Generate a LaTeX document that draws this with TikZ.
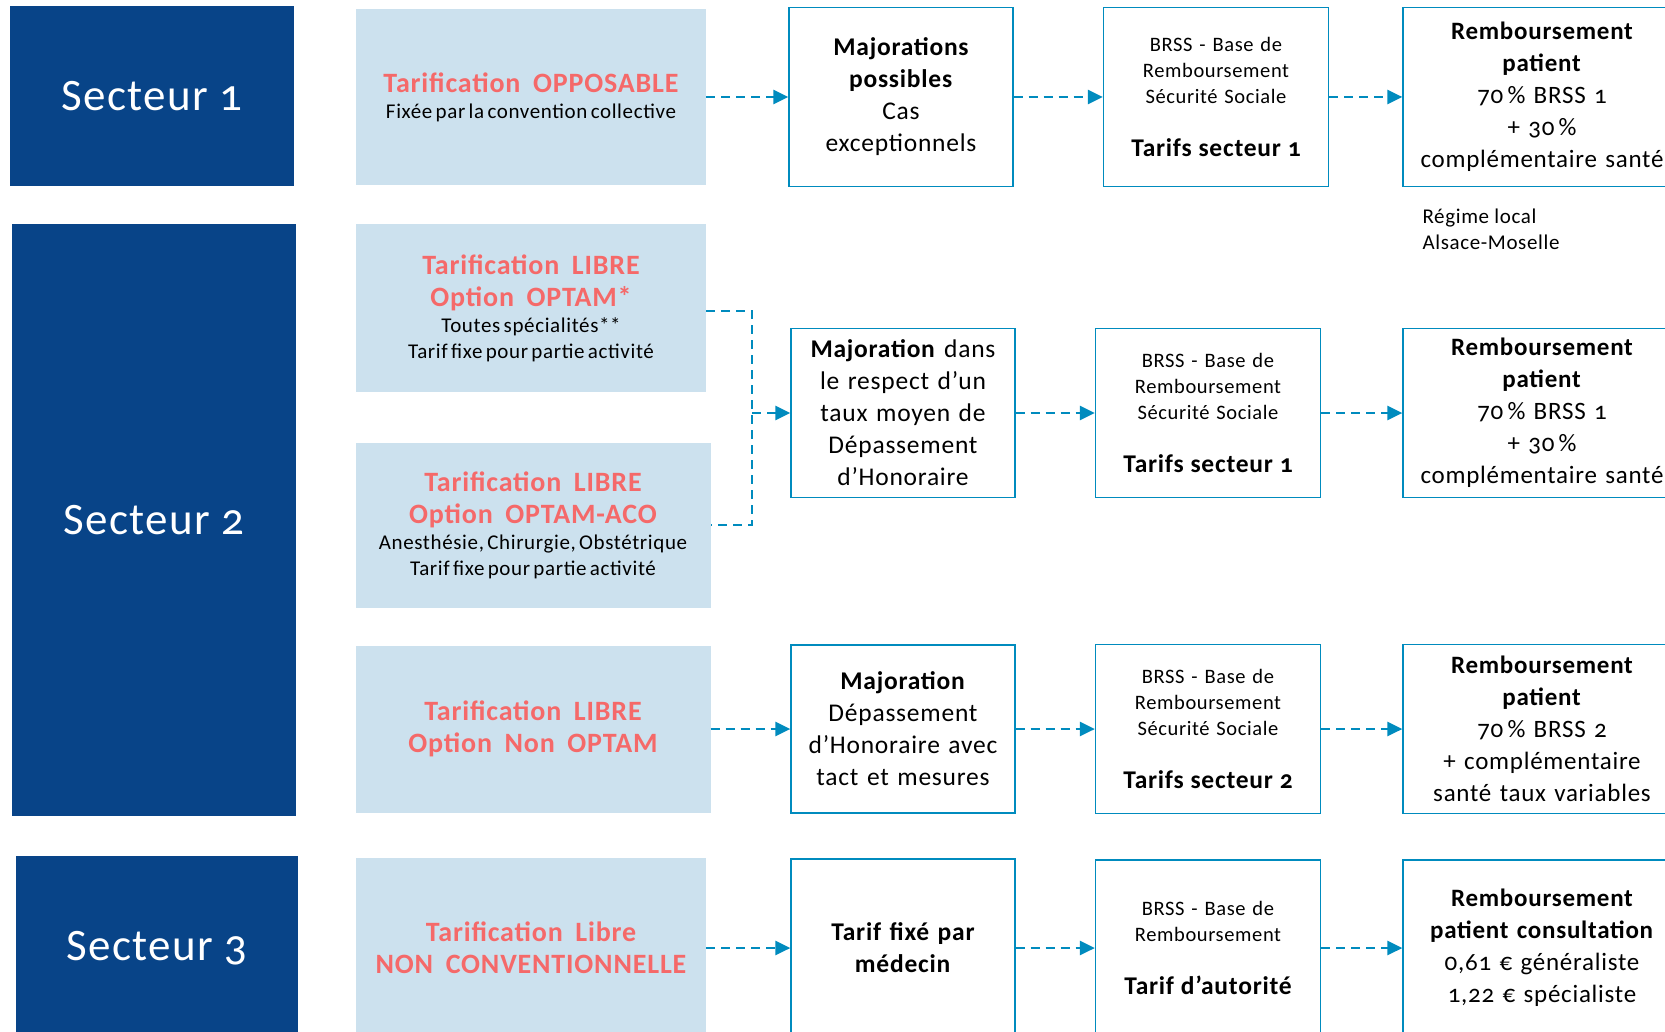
\documentclass[tikz,border=0pt]{standalone}
\usepackage{fontspec}
\setmainfont{Carlito}[Numbers=OldStyle,LetterSpace=3]
\usetikzlibrary{arrows,arrows.meta,positioning}
\definecolor{secblue}{RGB}{8,68,136}
\definecolor{tarifbg}{RGB}{204,225,238}
\definecolor{tarifred}{RGB}{245,105,105}
\definecolor{flowblue}{RGB}{0,139,190}
\newcommand{\redhead}{\color{tarifred}\bfseries\fontsize{28}{32}\selectfont}
\newcommand{\wsp}{\hspace{0.45em}}
\newcommand{\blknote}{\color{black}\fontsize{21}{26}\selectfont}
\newcommand{\brssbold}{\bfseries\fontsize{25.5}{28}\selectfont}

\begin{document}
\begin{tikzpicture}[x=1pt,y=-1pt,>={Triangle[length=15pt,width=14pt]},
  sector/.style={fill=secblue,text=white,font=\fontsize{45}{50}\selectfont,inner sep=0pt,minimum width=284pt},
  tarif/.style={fill=tarifbg,text width=345pt,align=center,inner sep=0pt},
  wbox/.style={draw=flowblue,line width=1.2pt,fill=white,text width=220pt,align=center,inner sep=0pt,minimum width=224pt,font=\fontsize{25.5}{32}\selectfont},
  brss/.style={draw=flowblue,line width=1.2pt,fill=white,text width=220pt,align=center,inner sep=0pt,minimum width=225pt,font=\fontsize{20.5}{26}\selectfont},
  remb/.style={draw=flowblue,line width=1.2pt,fill=white,text width=275pt,align=center,inner sep=0pt,minimum width=278pt,font=\fontsize{25}{32}\selectfont},
  flow/.style={->,flowblue,line width=2.7pt,dash pattern=on 9pt off 6pt}]
\clip (0,0) rectangle (1665,1032);
\useasboundingbox (0,0) rectangle (1665,1032);

\node[sector,minimum height=180pt] (s1) at (152,96) {Secteur 1};
\node[sector,minimum height=592pt] (s2) at (154,520) {Secteur 2};
\node[sector,minimum height=184pt,minimum width=282pt] (s3) at (157,948) {Secteur 3};

\node[tarif,minimum width=350pt,minimum height=176pt] (p1) at (531,97) {{\redhead Tarification\wsp OPPOSABLE\par}{\blknote Fixée par la convention collective\par}};
\node[tarif,minimum width=350pt,minimum height=168pt] (p2) at (531,308) {{\redhead Tarification\wsp LIBRE\\Option\wsp OPTAM*\par}{\blknote Toutes spécialités**\\Tarif fixe pour partie activité\par}};
\node[tarif,minimum width=355pt,minimum height=165pt] (p3) at (533,525) {{\redhead Tarification\wsp LIBRE\\Option\wsp OPTAM-ACO\par}{\blknote Anesthésie, Chirurgie, Obstétrique\\Tarif fixe pour partie activité\par}};
\node[tarif,minimum width=355pt,minimum height=167pt] (p4) at (533,729) {{\redhead Tarification\wsp LIBRE\\Option\wsp Non\wsp OPTAM\par}};
\node[tarif,minimum width=350pt,minimum height=180pt] (p5) at (531,948) {{\redhead Tarification\wsp Libre\\NON\wsp CONVENTIONNELLE\par}};

\node[wbox,minimum height=179pt] (m1) at (901,97) {\textbf{Majorations\\possibles}\\Cas\\exceptionnels};
\node[wbox,minimum height=169pt] (m2) at (903,413) {\textbf{Majoration} dans\\le respect d’un\\taux moyen de\\Dépassement\\d’Honoraire};
\node[wbox,minimum height=168pt] (m3) at (903,729) {\textbf{Majoration}\\Dépassement\\d’Honoraire avec\\tact et mesures};
\node[wbox,minimum height=178pt] (m4) at (903,948) {\textbf{Tarif fixé par\\médecin}};

\node[brss,minimum height=179pt] (b1) at (1216,97) {BRSS - Base de\\Remboursement\\Sécurité Sociale\\[27pt]{\brssbold Tarifs secteur 1}};
\node[brss,minimum height=169pt] (b2) at (1208,413) {BRSS - Base de\\Remboursement\\Sécurité Sociale\\[27pt]{\brssbold Tarifs secteur 1}};
\node[brss,minimum height=169pt] (b3) at (1208,729) {BRSS - Base de\\Remboursement\\Sécurité Sociale\\[27pt]{\brssbold Tarifs secteur 2}};
\node[brss,minimum height=176pt] (b4) at (1208,948) {BRSS - Base de\\Remboursement\\[27pt]{\brssbold Tarif d’autorité}};

\node[remb,minimum height=179pt] (r1) at (1542,97) {\textbf{Remboursement\\patient}\\70\,\% BRSS 1\\+ 30\,\%\\complémentaire santé};
\node[remb,minimum height=169pt] (r2) at (1542,413) {\textbf{Remboursement\\patient}\\70\,\% BRSS 1\\+ 30\,\%\\complémentaire santé};
\node[remb,minimum height=169pt] (r3) at (1542,729) {\textbf{Remboursement\\patient}\\70\,\% BRSS 2\\+ complémentaire\\santé taux variables};
\node[remb,minimum height=176pt] (r4) at (1542,948) {\textbf{Remboursement\\patient consultation}\\0,61 € généraliste\\1,22 € spécialiste};

\node[anchor=west,align=left,font=\fontsize{21}{26}\selectfont] (alsace) at (1419,229) {Régime local\\Alsace-Moselle};

\coordinate (join) at (752,413);
\draw[flow] (p1.east) -- (p1.east -| m1.west);
\draw[flow] (m1.east) -- (m1.east -| b1.west);
\draw[flow] (b1.east) -- (b1.east -| r1.west);
\draw[flow,-] (p2.east |- 0,311) -| (join) |- (p3.east);
\draw[flow] (join) -- (m2.west);
\draw[flow] (m2.east) -- (b2.west);
\draw[flow] (b2.east) -- (r2.west);
\draw[flow] (p4.east) -- (m3.west);
\draw[flow] (m3.east) -- (b3.west);
\draw[flow] (b3.east) -- (r3.west);
\draw[flow] (p5.east) -- (m4.west);
\draw[flow] (m4.east) -- (b4.west);
\draw[flow] (b4.east) -- (r4.west);
\end{tikzpicture}
\end{document}
